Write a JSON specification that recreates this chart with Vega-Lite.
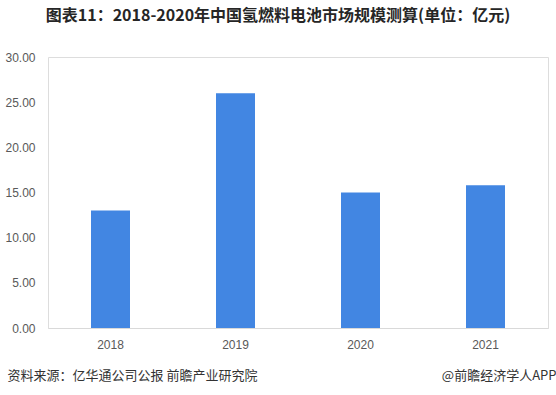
{
  "$schema": "https://vega.github.io/schema/vega-lite/v6.json",
  "width": 500,
  "height": 271,
  "autosize": "none",
  "padding": {"left": 48, "top": 57, "right": 8, "bottom": 67},
  "background": "white",
  "title": {
    "text": "图表11：2018-2020年中国氢燃料电池市场规模测算(单位：亿元)",
    "font": "Noto Sans CJK SC",
    "fontSize": 16,
    "fontWeight": "bold",
    "color": "#262626",
    "anchor": "middle",
    "dx": -20,
    "offset": 27
  },
  "data": {
    "values": [
      {"year": "2018", "value": 13.0},
      {"year": "2019", "value": 26.0},
      {"year": "2020", "value": 15.0},
      {"year": "2021", "value": 15.8}
    ]
  },
  "mark": {"type": "bar", "color": "#4286e2"},
  "encoding": {
    "x": {
      "field": "year",
      "type": "nominal",
      "scale": {"paddingInner": 0.688, "paddingOuter": 0.344},
      "axis": {
        "title": "资料来源：亿华通公司公报 前瞻产业研究院",
        "titleFont": "Noto Sans CJK SC",
        "titleFontSize": 13,
        "titleFontWeight": "normal",
        "titleColor": "#333333",
        "titleAnchor": "start",
        "titleAlign": "left",
        "titleBaseline": "middle",
        "titleX": -41,
        "titleY": 47,
        "labelAngle": 0,
        "labelFont": "Liberation Sans",
        "labelFontSize": 12,
        "labelColor": "#595959",
        "labelPadding": 11,
        "ticks": false,
        "domainColor": "#d9d9d9",
        "grid": false
      }
    },
    "y": {
      "field": "value",
      "type": "quantitative",
      "scale": {"domain": [0, 30]},
      "axis": {
        "values": [0, 5, 10, 15, 20, 25, 30],
        "format": ".2f",
        "labelFont": "Liberation Sans",
        "labelFontSize": 12,
        "labelColor": "#595959",
        "labelPadding": 13,
        "ticks": false,
        "domain": false,
        "grid": false,
        "title": "@前瞻经济学人APP",
        "titleFont": "Noto Sans CJK SC",
        "titleFontSize": 13,
        "titleFontWeight": "normal",
        "titleColor": "#333333",
        "titleAngle": 0,
        "titleAlign": "right",
        "titleBaseline": "middle",
        "titleX": 508,
        "titleY": 318
      }
    }
  }
}
